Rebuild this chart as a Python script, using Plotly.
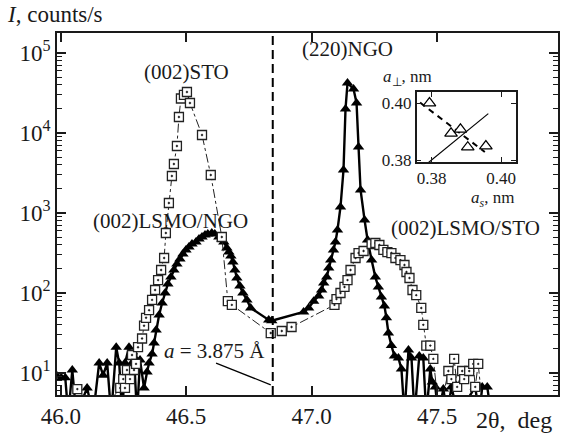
import plotly.graph_objects as go

# ---------------- data ----------------
# LSMO/STO sample (open squares): 2theta (deg), intensity (counts/s)
sto_2theta = [46.066, 46.153, 46.237, 46.249, 46.256, 46.264, 46.276, 46.284, 46.292, 46.300,
              46.308, 46.324, 46.332, 46.340, 46.352, 46.364, 46.376, 46.388, 46.400, 46.412,
              46.419, 46.431, 46.443, 46.451, 46.463, 46.471, 46.479, 46.491, 46.503, 46.515,
              46.563, 46.598, 46.642, 46.666, 46.682, 46.837, 46.881, 46.920, 47.091, 47.099,
              47.115, 47.131, 47.143, 47.155, 47.175, 47.187, 47.207, 47.239, 47.254, 47.270,
              47.286, 47.302, 47.318, 47.334, 47.354, 47.370, 47.378, 47.390, 47.402, 47.417,
              47.437, 47.445, 47.457, 47.473, 47.485, 47.509, 47.545, 47.557, 47.568, 47.580,
              47.600, 47.608, 47.628, 47.644, 47.652, 47.664, 47.684]
sto_counts = [6.3, 3, 6.5, 8.4, 6.5, 10.9, 8.4, 16.8, 10.9, 13,
              21, 27, 39, 49, 61, 82, 109, 145, 194, 274,
              562, 1334, 2900, 4097, 6877, 15849, 27000, 30000, 32546, 23714,
              9441, 2985, 501, 79, 71, 31.6, 33.5, 37.6, 71, 84,
              100, 119, 145, 194, 274, 316, 335, 410, 422, 398,
              345, 325, 316, 274, 258, 224, 183, 154, 109, 94,
              65, 40, 22, 22, 15, 3, 10.6, 8.4, 15, 6.7,
              10.6, 8.4, 10.6, 13, 6.7, 13, 3]

# LSMO/NGO sample (filled triangles)
ngo_2theta = [45.982, 46.002, 46.018, 46.030, 46.046, 46.062, 46.105, 46.129, 46.153, 46.169,
              46.185, 46.201, 46.221, 46.233, 46.245, 46.256, 46.272, 46.284, 46.292, 46.304,
              46.316, 46.332, 46.344, 46.352, 46.364, 46.372, 46.380, 46.392, 46.404, 46.416,
              46.427, 46.439, 46.451, 46.463, 46.475, 46.487, 46.499, 46.511, 46.523, 46.539,
              46.551, 46.563, 46.575, 46.586, 46.602, 46.614, 46.630, 46.642, 46.650, 46.662,
              46.670, 46.678, 46.686, 46.694, 46.702, 46.714, 46.726, 46.742, 46.757, 46.829,
              46.841, 46.968, 46.988, 47.008, 47.028, 47.040, 47.048, 47.060, 47.068, 47.076,
              47.087, 47.095, 47.103, 47.115, 47.127, 47.135, 47.143, 47.167, 47.179, 47.187,
              47.195, 47.211, 47.223, 47.239, 47.254, 47.266, 47.278, 47.290, 47.298, 47.306,
              47.318, 47.330, 47.346, 47.358, 47.370, 47.386, 47.398, 47.410, 47.429, 47.445,
              47.457, 47.473, 47.481, 47.493, 47.505, 47.525, 47.541, 47.557, 47.584, 47.652,
              47.668, 47.680, 47.700, 47.716]
ngo_counts = [9.4, 8.7, 8.7, 3, 10.9, 3, 6.5, 3, 13.3, 9.4,
              13.3, 3, 21, 13.3, 3, 13.3, 21, 13.3, 15.8, 3,
              14.5, 6.5, 10.3, 13.3, 17.3, 23.7, 34.5, 53, 75, 100,
              130, 158, 194, 230, 266, 307, 345, 376, 410, 434,
              473, 501, 531, 546, 562, 546, 501, 473, 434, 365,
              325, 290, 244, 194, 154, 122, 100, 82, 65, 46,
              45, 58, 65, 79, 92, 109, 133, 158, 205, 258,
              345, 434, 613, 1189, 3447, 19953, 42170, 35481, 23714, 6683,
              1939, 817, 460, 258, 158, 119, 89, 69, 49, 31.6,
              22, 16.3, 15.4, 11.2, 3, 19.4, 15.4, 3, 16.3, 15.4,
              3, 11.2, 7.7, 6.7, 3, 6.3, 3, 6.7, 3, 6.7,
              3, 6.7, 6.7, 3]

x_tickvals = [46.0, 46.5, 47.0, 47.5]
x_ticktext = ["46.0", "46.5", "47.0", "47.5"]
y_tickvals = [1e1, 1e2, 1e3, 1e4, 1e5]
y_ticktext = ["10<sup>1</sup>", "10<sup>2</sup>", "10<sup>3</sup>", "10<sup>4</sup>", "10<sup>5</sup>"]

a_line_2theta = 46.845           # a = 3.875 A
pointer_2theta = [46.619, 46.837]
pointer_counts = [13.3, 7.1]

# inset: lattice parameters
inset_as = [0.3794, 0.3856, 0.3883, 0.3904, 0.3956]
inset_aperp = [0.4000, 0.3894, 0.3908, 0.3845, 0.3849]
cubic_as = [0.3791, 0.3963]
cubic_aperp = [0.3791, 0.3963]
trend_as = [0.3767, 0.3953]
trend_aperp = [0.4002, 0.3828]
inset_ticks = [0.38, 0.40]
inset_ticktext = ["0.38", "0.40"]

# ---------------- figure ----------------
FONT = "Liberation Serif"
INK = "#1a1a1a"

fig = go.Figure()

fig.add_trace(go.Scatter(
    x=ngo_2theta, y=ngo_counts, mode="lines+markers",
    line=dict(color="black", width=2.4),
    marker=dict(symbol="triangle-up", size=10, color="black"),
    xaxis="x", yaxis="y", showlegend=False))

fig.add_trace(go.Scatter(
    x=sto_2theta, y=sto_counts, mode="lines+markers",
    line=dict(color="#222222", width=1, dash="dashdot"),
    marker=dict(symbol="square-dot", size=9, color="white",
                line=dict(color="#222222", width=1.3)),
    xaxis="x", yaxis="y", showlegend=False))

fig.add_trace(go.Scatter(
    x=pointer_2theta, y=pointer_counts, mode="lines",
    line=dict(color="black", width=1.2),
    xaxis="x", yaxis="y", showlegend=False, hoverinfo="skip"))

# inset traces
fig.add_trace(go.Scatter(
    x=cubic_as, y=cubic_aperp, mode="lines",
    line=dict(color="black", width=1.2),
    xaxis="x2", yaxis="y2", showlegend=False))
fig.add_trace(go.Scatter(
    x=trend_as, y=trend_aperp, mode="lines",
    line=dict(color="black", width=2, dash="6px,5px"),
    xaxis="x2", yaxis="y2", showlegend=False))
fig.add_trace(go.Scatter(
    x=inset_as, y=inset_aperp, mode="markers",
    marker=dict(symbol="triangle-up", size=11, color="white",
                line=dict(color="black", width=1.2)),
    xaxis="x2", yaxis="y2", showlegend=False))

minor_vals = [k * 10 ** e for e in range(0, 6) for k in range(2, 10)]

axis_common = dict(showline=True, linecolor=INK, linewidth=1.5, mirror="ticks",
                   ticks="inside", tickcolor=INK, showgrid=False, zeroline=False)

fig.update_layout(
    width=561, height=434,
    margin=dict(l=57, r=1, t=33, b=39),
    paper_bgcolor="white", plot_bgcolor="white",
    font=dict(family=FONT, color=INK),
    xaxis=dict(range=[45.985, 47.982], tickmode="array", tickvals=x_tickvals,
               ticktext=x_ticktext, ticklen=9, tickwidth=1.5,
               tickfont=dict(size=23, family=FONT, color=INK), domain=[0, 1],
               **axis_common),
    yaxis=dict(type="log", range=[0.725, 5.25], tickmode="array", tickvals=y_tickvals,
               ticktext=y_ticktext, ticklen=9, tickwidth=1.5,
               tickfont=dict(size=23, family=FONT, color=INK), domain=[0, 1],
               minor=dict(ticks="inside", ticklen=5, tickwidth=1.2, tickcolor=INK,
                          tickmode="array", tickvals=minor_vals, showgrid=False),
               **axis_common),
    xaxis2=dict(range=[0.3757, 0.4043], tickmode="array", tickvals=inset_ticks,
                ticktext=inset_ticktext, ticklen=5, tickwidth=1.2,
                tickfont=dict(size=17, family=FONT, color=INK),
                domain=[0.7177, 0.9165], anchor="y2", **axis_common),
    yaxis2=dict(range=[0.3793, 0.4039], tickmode="array", tickvals=inset_ticks,
                ticktext=inset_ticktext, ticklen=5, tickwidth=1.2,
                tickfont=dict(size=17, family=FONT, color=INK),
                domain=[0.6436, 0.837], anchor="x2", **axis_common),
)

fig.add_shape(type="line", xref="x", yref="paper", x0=a_line_2theta, x1=a_line_2theta,
              y0=0, y1=1, line=dict(color="black", width=2, dash="9px,5px"))

ann_font = dict(family=FONT, size=21, color=INK)
labels = [
    ("(002)STO", 0.2584, 0.892),
    ("(002)LSMO/NGO", 0.2266, 0.481),
    ("(220)NGO", 0.58, 0.955),
    ("(002)LSMO/STO", 0.815, 0.461),
    ("<i>a</i> = 3.875 Å", 0.314, 0.122),
]
for txt, xx, yy in labels:
    fig.add_annotation(text=txt, x=xx, y=yy, xref="paper", yref="paper",
                       showarrow=False, font=ann_font, xanchor="center", yanchor="middle")

fig.add_annotation(text="<i>I</i>, counts/s", x=-0.103, y=1.05, xref="paper", yref="paper",
                   showarrow=False, font=dict(family=FONT, size=23, color=INK),
                   xanchor="left", yanchor="middle")
fig.add_annotation(text="2θ,&nbsp; deg", x=0.993, y=-0.069, xref="paper", yref="paper",
                   showarrow=False, font=dict(family=FONT, size=24, color=INK),
                   xanchor="right", yanchor="middle")
fig.add_annotation(text="<i>a</i><sub>⊥</sub>, nm", x=0.646, y=0.876, xref="paper", yref="paper",
                   showarrow=False, font=dict(family=FONT, size=17, color=INK),
                   xanchor="left", yanchor="middle")
fig.add_annotation(text="<i>a<sub>s</sub></i>, nm", x=0.9165, y=0.541, xref="paper", yref="paper",
                   showarrow=False, font=dict(family=FONT, size=17, color=INK),
                   xanchor="right", yanchor="middle")

fig.write_html("out.html")
